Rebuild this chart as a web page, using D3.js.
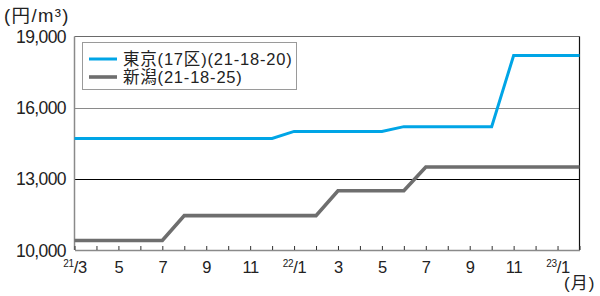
<!DOCTYPE html>
<html><head><meta charset="utf-8">
<script src="https://cdn.jsdelivr.net/npm/d3@7"></script>
<style>
body{margin:0;background:#fff;}
text{font-family:"Liberation Sans","Noto Sans CJK JP",sans-serif;}
</style></head>
<body><svg id="c" width="600" height="296"></svg>
<script>
const months = ["21/3","21/4","21/5","21/6","21/7","21/8","21/9","21/10","21/11","21/12",
  "22/1","22/2","22/3","22/4","22/5","22/6","22/7","22/8","22/9","22/10","22/11","22/12",
  "23/1","23/2"];
const tokyo = [14700,14700,14700,14700,14700,14700,14700,14700,14700,14700,
  15000,15000,15000,15000,15000,15200,15200,15200,15200,15200,18200,18200,18200,18200];
const niigata = [10400,10400,10400,10400,10400,11450,11450,11450,11450,11450,
  11450,11450,12500,12500,12500,12500,13500,13500,13500,13500,13500,13500,13500,13500];
const seriesNames = ["東京(17区)(21-18-20)","新潟(21-18-25)"];
const yTicks = [10000,13000,16000,19000];
const xTickLabels = {"21/3":["21","/3"],"21/5":["","5"],"21/7":["","7"],"21/9":["","9"],"21/11":["","11"],
  "22/1":["22","/1"],"22/3":["","3"],"22/5":["","5"],"22/7":["","7"],"22/9":["","9"],"22/11":["","11"],"23/1":["23","/1"]};
const unitLabel = "(円/m³)";
const monthUnit = "(月)";

const svg = d3.select("#c");
const L=74.5, R=579.5, T=36.5, B=250;
const x = d3.scalePoint().domain(months).range([L,R]);
const y = d3.scaleLinear().domain([10000,19000]).range([B,T]);

// gridlines
const gridColor = {16000:"#8a8a8a",13000:"#000"};
[13000,16000].forEach(v=>{
  svg.append("line").attr("x1",L).attr("x2",R).attr("y1",Math.round(y(v))+0.5).attr("y2",Math.round(y(v))+0.5)
    .attr("stroke",gridColor[v]).attr("stroke-width",1.2);
});
// top and right frame
svg.append("line").attr("x1",L).attr("x2",R).attr("y1",T).attr("y2",T).attr("stroke","#6a6a6a").attr("stroke-width",1.2);
svg.append("line").attr("x1",R).attr("x2",R).attr("y1",T).attr("y2",B).attr("stroke","#111").attr("stroke-width",1.2);
// left axis
svg.append("line").attr("x1",L).attr("x2",L).attr("y1",T).attr("y2",B).attr("stroke","#8a8a8a").attr("stroke-width",1.5);

// y labels
svg.selectAll(".yl").data(yTicks).enter().append("text")
  .attr("x",66).attr("y",d=>y(d)+6.5).attr("text-anchor","end")
  .attr("font-size",17.5).attr("fill","#222").attr("letter-spacing","-0.6")
  .text(d=>d3.format(",")(d));

// x axis
const xAxis = d3.axisBottom(x).tickSizeInner(-4).tickSizeOuter(0).tickPadding(10).tickFormat("");
const gx = svg.append("g").attr("transform",`translate(0,${B})`).call(xAxis);
gx.select(".domain").attr("stroke","#8a8a8a").attr("stroke-width",1.5);
gx.selectAll(".tick line").attr("stroke","#333").attr("stroke-width",1);
gx.selectAll(".tick").each(function(d){
  const lab = xTickLabels[d];
  if(!lab) return;
  const t = d3.select(this).append("text").attr("y",23).attr("fill","#222")
    .attr("text-anchor","middle").attr("font-size",16.5).attr("letter-spacing","-0.3");
  if(lab[0]) t.append("tspan").attr("font-size",10).attr("dy",-6).text(lab[0]);
  t.append("tspan").attr("dy",lab[0]?6:0).text(lab[1]);
});

// lines
const line = d3.line().x((d,i)=>x(months[i])).y(d=>y(d));
svg.append("path").datum(niigata).attr("d",line).attr("fill","none").attr("stroke","#6e6e6e").attr("stroke-width",3.6);
svg.append("path").datum(tokyo).attr("d",line).attr("fill","none").attr("stroke","#00a5e6").attr("stroke-width",3);

// legend
const lg = svg.append("g");
lg.append("rect").attr("x",82.5).attr("y",42.5).attr("width",214).attr("height",47)
  .attr("fill","#fff").attr("stroke","#9a9a9a").attr("stroke-width",1);
const colors = ["#00a5e6","#6e6e6e"];
seriesNames.forEach((n,i)=>{
  const yy = 59 + i*18;
  lg.append("line").attr("x1",89).attr("x2",117).attr("y1",yy).attr("y2",yy)
    .attr("stroke",colors[i]).attr("stroke-width",i?3.6:3);
  lg.append("text").attr("x",123).attr("y",yy+6).attr("font-size",16.5).attr("letter-spacing","0.8")
    .attr("fill","#222").text(n);
});

// unit labels
svg.append("text").attr("x",4).attr("y",22).attr("font-size",18.5).attr("letter-spacing","1.4").attr("fill","#222").text(unitLabel);
svg.append("text").attr("x",564).attr("y",289).attr("font-size",17).attr("letter-spacing","1").attr("fill","#222").text(monthUnit);
</script></body></html>
